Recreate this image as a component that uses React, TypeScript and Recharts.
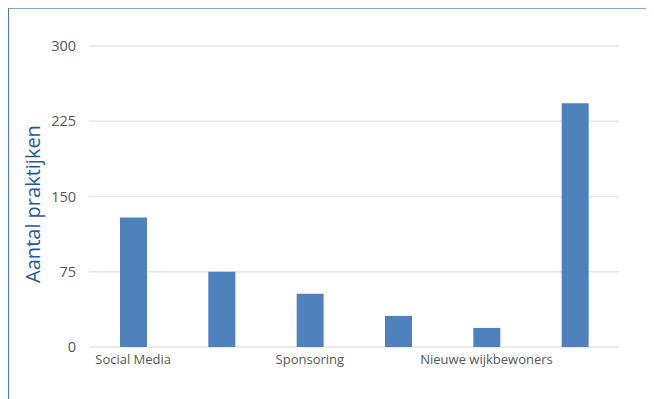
import { BarChart, Bar, CartesianGrid, XAxis, YAxis } from "recharts";

// only every other category name is printed in the original
const categories = ["Social Media", "", "Sponsoring", "", "Nieuwe wijkbewoners", ""];
const practices = [129, 75, 53, 31, 19, 243];
const yTicks = [0, 75, 150, 225, 300];

const data = categories.map((name, i) => ({ name, value: practices[i] }));

const FONT = "'Open Sans', 'Noto Sans', sans-serif";

const AxisTitle = () => (
  <text
    x={23}
    y={195}
    transform="rotate(-90 23 195)"
    textAnchor="middle"
    dominantBaseline="central"
    fill="#1f5c9c"
    fontSize={20}
    fontFamily={FONT}
  >
    Aantal praktijken
  </text>
);

const App = () => {
  return (
    <div style={{ position: "relative", width: 646, height: 391 }}>
      <div
        style={{
          position: "absolute",
          left: 0,
          top: -1,
          width: 646,
          height: 2,
          background: "#7aa5cc",
        }}
      />
      <div
        style={{
          position: "absolute",
          left: 0,
          top: -1,
          width: 1,
          height: 392,
          background: "#4a7fb4",
        }}
      />
      <div style={{ position: "absolute", left: 1, top: 1 }}>
        <BarChart
          width={645}
          height={390}
          data={data}
          margin={{ top: 37, right: 35, bottom: 22, left: 0 }}
        >
          <CartesianGrid vertical={false} stroke="#e6e6e6" strokeWidth={1.5} />
          <XAxis
            dataKey="name"
            interval={0}
            height={30}
            axisLine={false}
            tickLine={false}
            tickSize={0}
            tickMargin={8}
            tick={{ fill: "#595959", fontSize: 13, fontFamily: FONT }}
          />
          <YAxis
            width={80}
            domain={[0, 300]}
            ticks={yTicks}
            axisLine={false}
            tickLine={false}
            tickMargin={7}
            tick={{ fill: "#595959", fontSize: 14.5, fontFamily: FONT }}
            label={<AxisTitle />}
          />
          <Bar dataKey="value" fill="#4f81bd" barSize={27} isAnimationActive={false} />
        </BarChart>
      </div>
    </div>
  );
};

export default App;
